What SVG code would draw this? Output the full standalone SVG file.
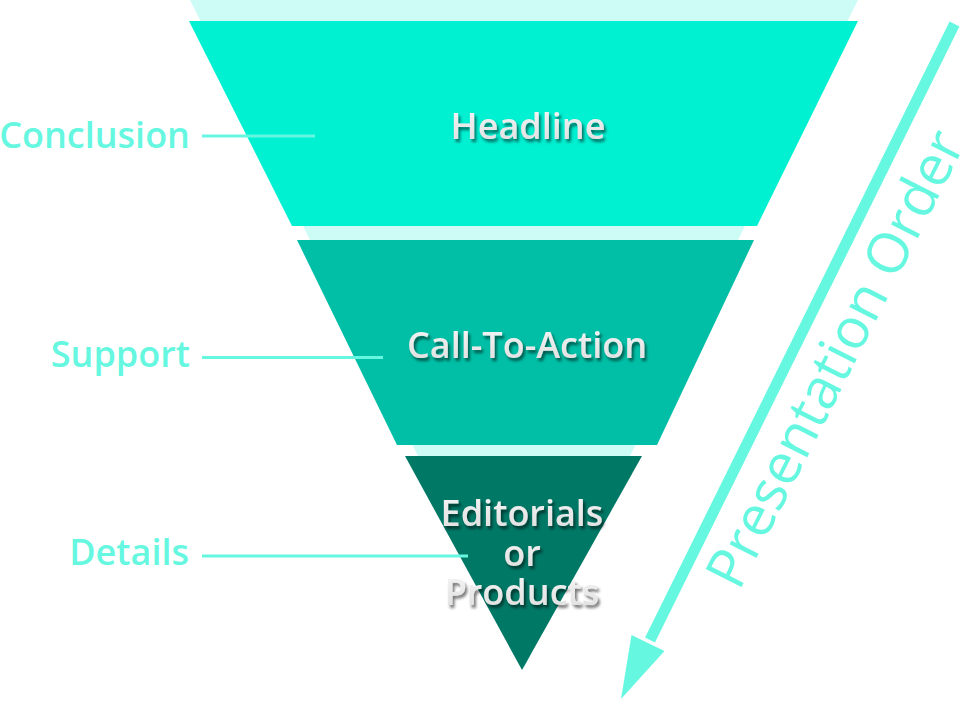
<svg xmlns="http://www.w3.org/2000/svg" width="963" height="702" viewBox="0 0 963 702">
  <defs>
    <filter id="shadow" x="-20%" y="-30%" width="140%" height="160%">
      <feDropShadow dx="2" dy="3" stdDeviation="1.5" flood-color="#000000" flood-opacity="0.55"/>
    </filter>
    <linearGradient id="txt" x1="0" y1="0" x2="0" y2="1">
      <stop offset="0" stop-color="#f8f8f8"/>
      <stop offset="1" stop-color="#dcdcdc"/>
    </linearGradient>
  </defs>
  <style>
    .lbl { font-family: "Open Sans", "Liberation Sans", sans-serif; font-size: 36px; font-weight: 600; fill: #66F7E1; text-anchor: end; }
    .ttl { font-family: "Open Sans", "Liberation Sans", sans-serif; font-size: 36px; font-weight: 600; fill: url(#txt); text-anchor: middle; filter: url(#shadow); }
    .lead { stroke: #66F7E1; stroke-width: 3; fill: none; }
    .arrow { stroke: #66F7E1; stroke-width: 11; fill: none; }
  </style>
  <rect width="963" height="702" fill="#ffffff"/>
  <g id="backdrop">
    <polygon points="190,0 858,0 524,668" fill="#CCFCF5"/>
  </g>
  <g id="headline">
    <polygon points="189,21 858,21 757,226 292,226" fill="#00F0D2"/>
    <text class="ttl" x="528" y="139">Headline</text>
  </g>
  <g id="call-to-action">
    <polygon points="297,240 754,240 657,445 397,445" fill="#00BFA6"/>
    <text class="ttl" x="527" y="358">Call-To-Action</text>
  </g>
  <g id="editorials">
    <polygon points="405,456 642,456 522,670" fill="#007866"/>
    <text class="ttl" x="522" y="526">Editorials</text>
    <text class="ttl" x="522" y="566">or</text>
    <text class="ttl" x="522" y="605">Products</text>
  </g>
  <g id="label-conclusion">
    <text class="lbl" x="190" y="148">Conclusion</text>
  </g>
  <g id="label-support">
    <text class="lbl" x="190" y="367">Support</text>
  </g>
  <g id="label-details">
    <text class="lbl" x="189" y="565">Details</text>
  </g>
  <g id="presentation-order">
    <text transform="translate(739,592) rotate(-63.2)" font-family="'Open Sans', 'Liberation Sans', sans-serif" font-size="56" fill="#66F7E1">Presentation Order</text>
  </g>
  <g id="connectors">
    <line class="lead" x1="202" y1="136" x2="315" y2="136"/>
    <line class="lead" x1="202" y1="357.5" x2="383" y2="357.5"/>
    <line class="lead" x1="202" y1="556" x2="468" y2="556"/>
    <line class="arrow" x1="954.5" y1="24" x2="650" y2="640"/>
    <polygon points="621,699 631.5,635 664.5,651" fill="#66F7E1"/>
  </g>
</svg>
